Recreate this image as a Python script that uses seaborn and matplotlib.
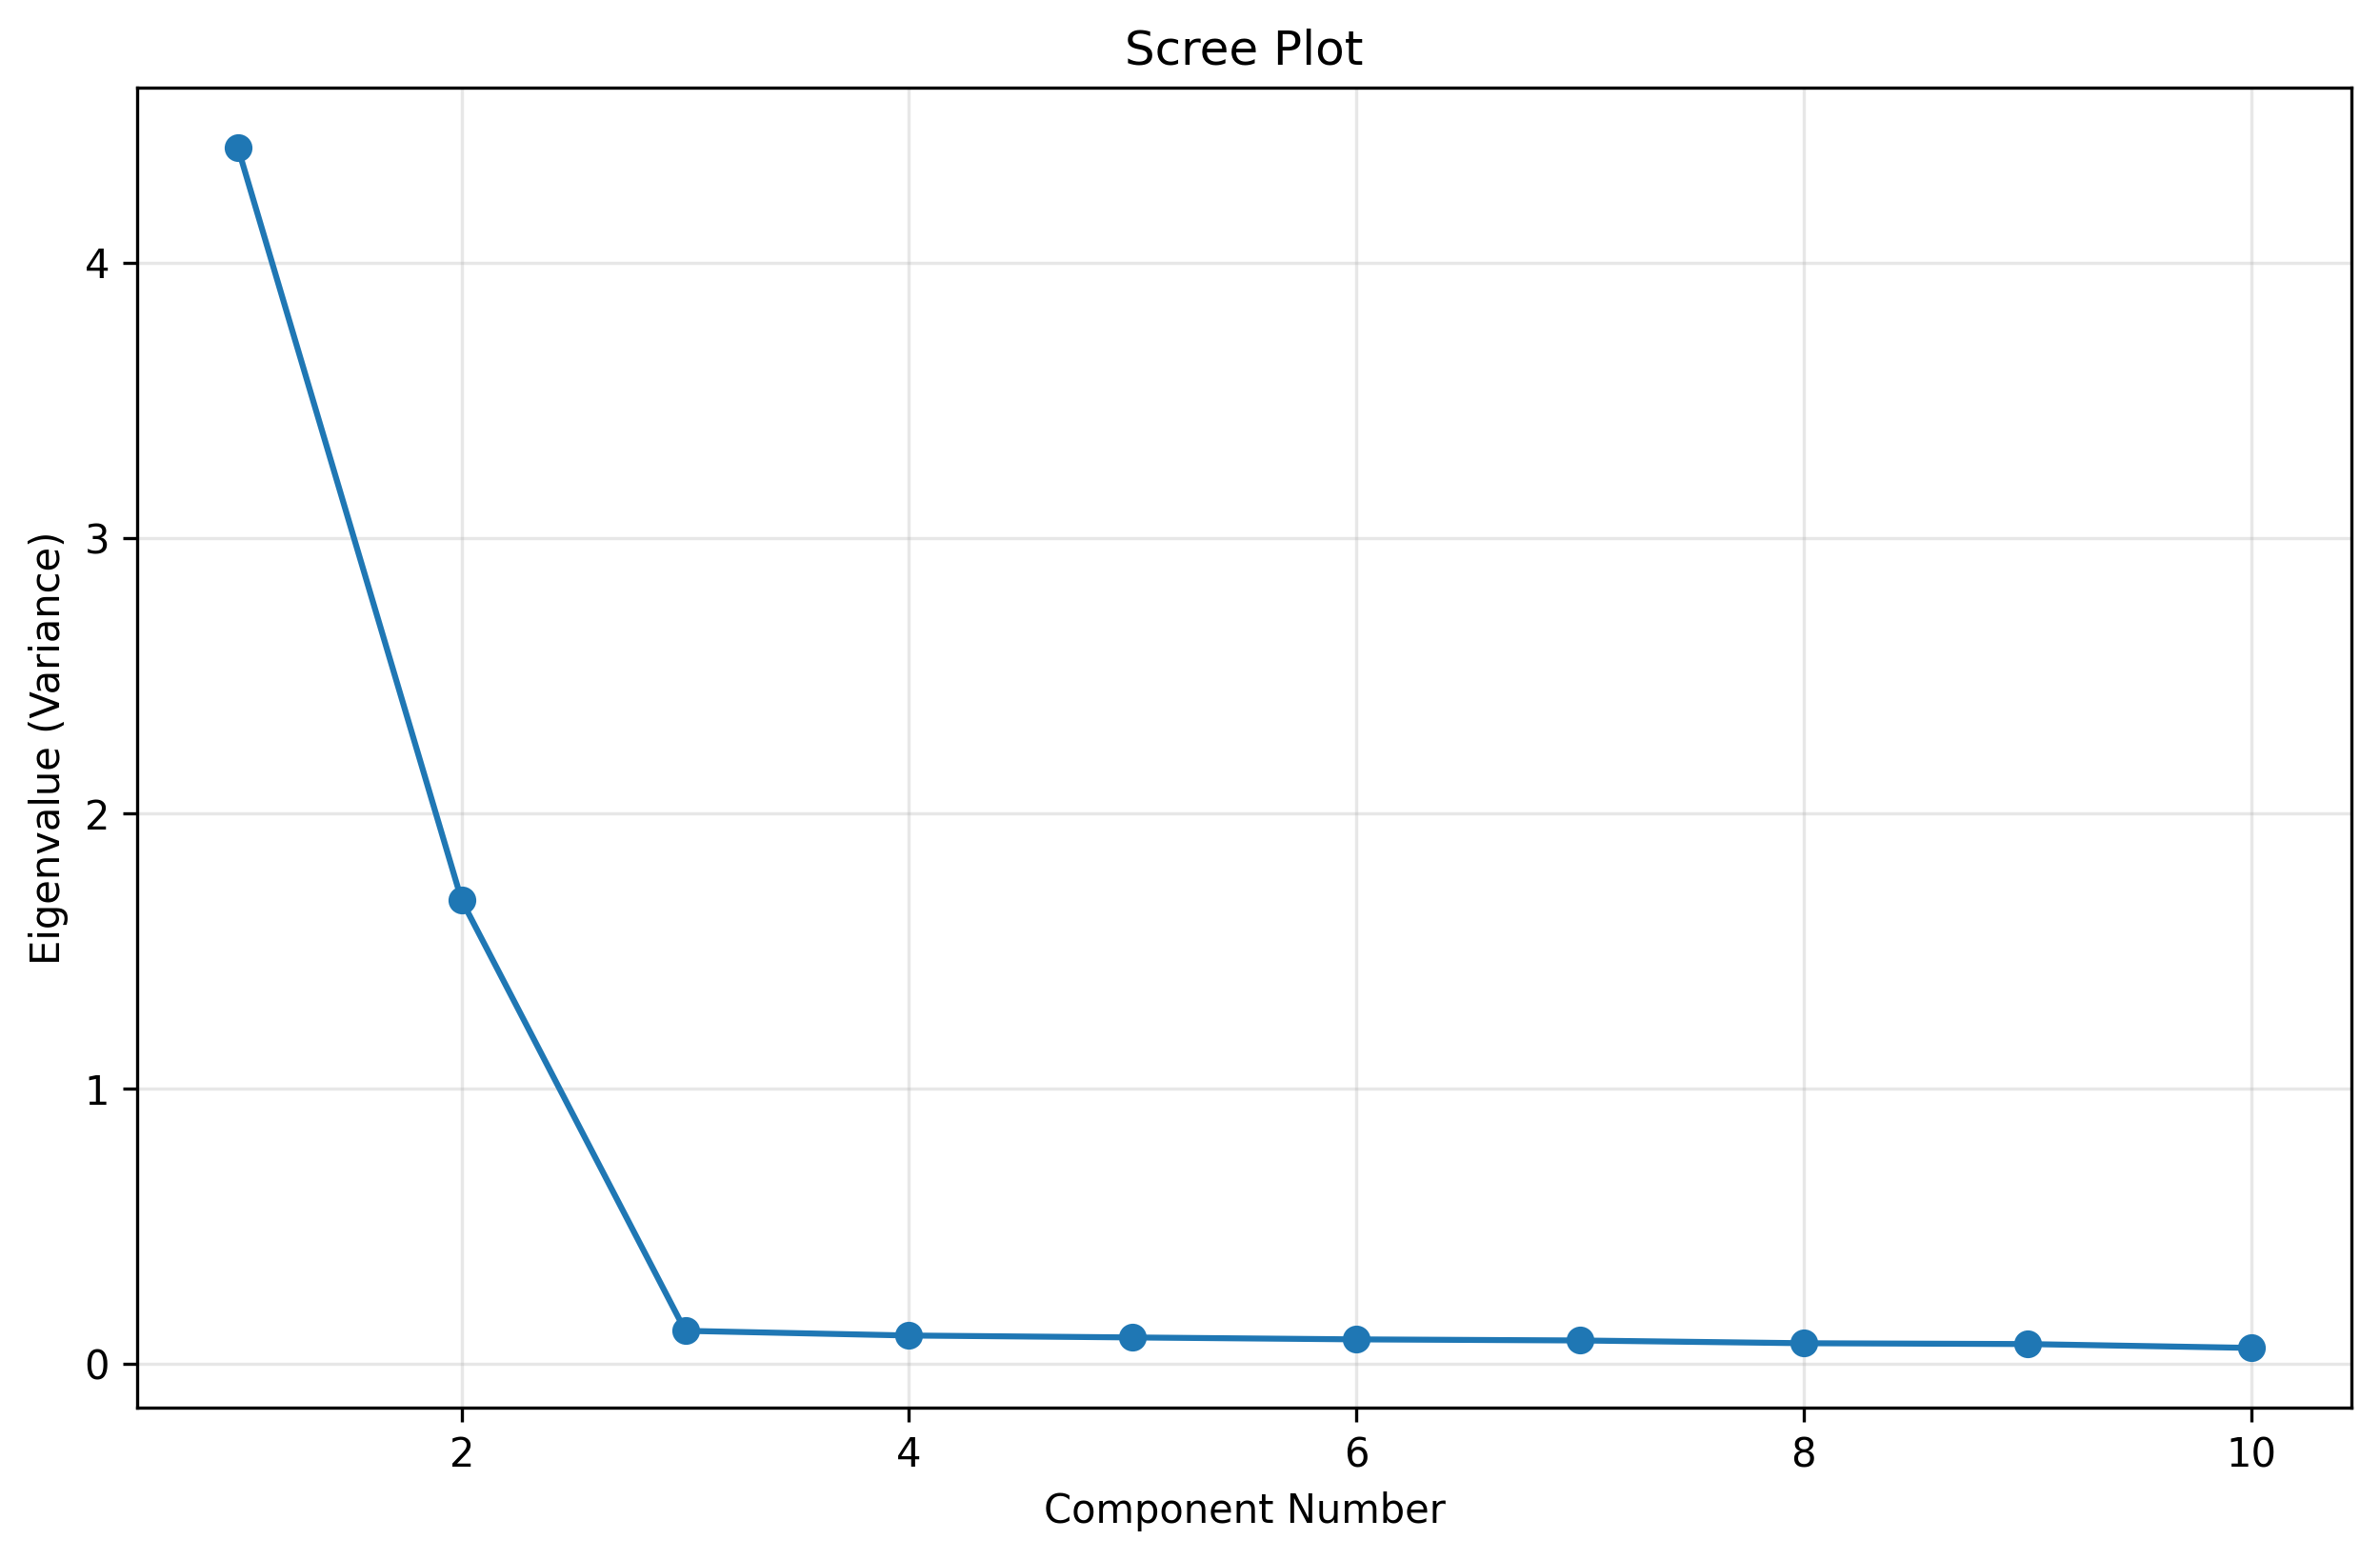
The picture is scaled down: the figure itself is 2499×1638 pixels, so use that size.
import matplotlib
matplotlib.use("Agg")
import matplotlib.pyplot as plt
import seaborn as sns
import pandas as pd

components = [1, 2, 3, 4, 5, 6, 7, 8, 9, 10]
eigenvalues = [4.417, 1.685, 0.121, 0.104, 0.097, 0.090, 0.086, 0.076, 0.073, 0.059]

df = pd.DataFrame({"Component": components, "Eigenvalue": eigenvalues})

plt.rcParams['font.family'] = ['DejaVu Sans']
fig, ax = plt.subplots(figsize=(8.33, 5.46), dpi=300)
sns.lineplot(data=df, x="Component", y="Eigenvalue", marker="o", markersize=6,
             markeredgewidth=1, markeredgecolor="#1f77b4", color="#1f77b4",
             linewidth=1.5, ax=ax)
ax.set_title("Scree Plot")
ax.set_xlabel("Component Number")
ax.set_ylabel("Eigenvalue (Variance)")
ax.grid(True, alpha=0.3)
fig.subplots_adjust(left=0.0577, right=0.9881, bottom=0.0975, top=0.9436)
fig.savefig("out.png", dpi=300)
